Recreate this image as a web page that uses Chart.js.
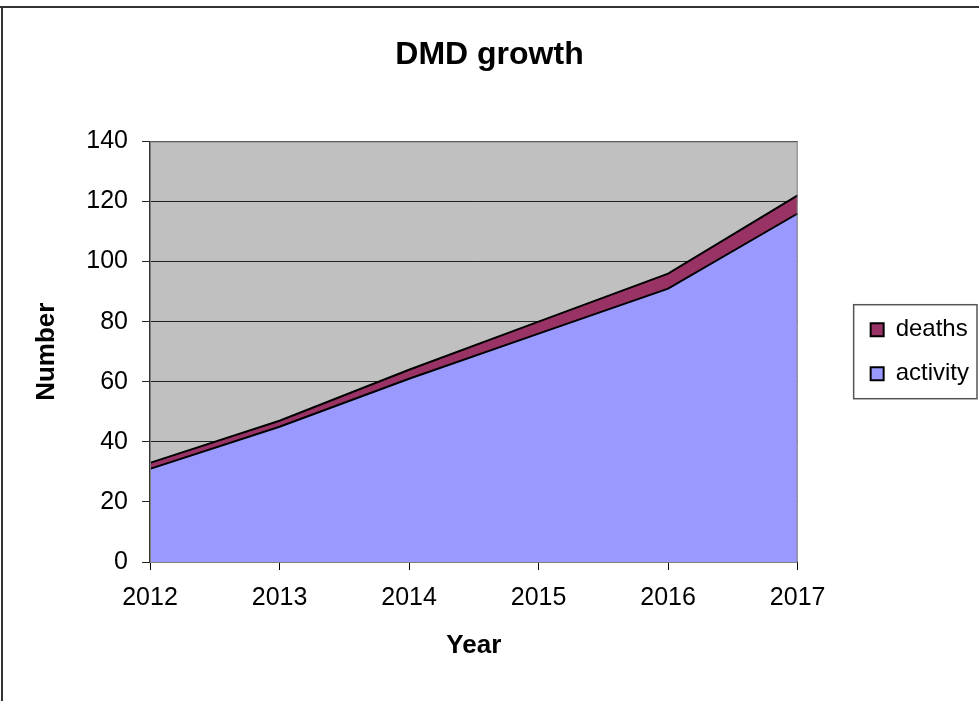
<!DOCTYPE html>
<html>
<head>
<meta charset="utf-8">
<script src="https://cdn.jsdelivr.net/npm/chart.js@4/dist/chart.umd.min.js"></script>
<style>
  html, body { margin: 0; padding: 0; background: #fff; }
  canvas { display: block; }
</style>
</head>
<body>
<canvas id="growth" width="979" height="701"></canvas>
<script>
var years = ["2012", "2013", "2014", "2015", "2016", "2017"];
var activity = [31, 45, 61, 76, 91, 116];
var deaths = [2, 2, 3, 4, 5, 6];
var yTicks = [0, 20, 40, 60, 80, 100, 120, 140];

var FONT = "'Liberation Sans', Arial, sans-serif";

// grey plot background, plot outline, outer frame and the legend box
var framePlugin = {
  id: 'frame',
  beforeDraw: function (chart) {
    var ctx = chart.ctx, a = chart.chartArea;
    ctx.save();
    ctx.fillStyle = '#c0c0c0';
    ctx.fillRect(a.left, a.top, a.right - a.left, a.bottom - a.top);
    ctx.restore();
  },
  afterDraw: function (chart) {
    var ctx = chart.ctx, a = chart.chartArea;
    ctx.save();
    ctx.strokeStyle = '#808080';
    ctx.lineWidth = 1;
    ctx.strokeRect(a.left + 0.5, a.top + 0.5, a.right - a.left - 1, a.bottom - a.top);
    // outer frame
    ctx.strokeStyle = '#333';
    ctx.lineWidth = 2;
    ctx.beginPath();
    ctx.moveTo(0, 7); ctx.lineTo(chart.width, 7);
    ctx.moveTo(2, 7); ctx.lineTo(2, chart.height);
    ctx.stroke();
    // legend box
    var lg = chart.legend;
    if (lg && lg.legendHitBoxes.length) {
      var hb = lg.legendHitBoxes;
      var y0 = hb[0].top - 13;
      var y1 = hb[hb.length - 1].top + hb[hb.length - 1].height + 13;
      ctx.strokeStyle = '#555';
      ctx.lineWidth = 1.5;
      ctx.strokeRect(lg.left + 3, y0, lg.right - lg.left - 5, y1 - y0);
    }
    ctx.restore();
  }
};

new Chart(document.getElementById('growth'), {
  type: 'line',
  data: {
    labels: years,
    datasets: [
      {
        label: 'activity',
        data: activity,
        backgroundColor: '#9999ff',
        borderColor: '#000',
        borderWidth: 2,
        fill: 'origin',
        pointRadius: 0,
        tension: 0
      },
      {
        label: 'deaths',
        data: deaths,
        backgroundColor: '#993366',
        borderColor: '#000',
        borderWidth: 2,
        fill: '-1',
        pointRadius: 0,
        tension: 0
      }
    ]
  },
  options: {
    responsive: false,
    animation: false,
    layout: { padding: { top: 8, left: 0, right: 0, bottom: 0 } },
    plugins: {
      title: {
        display: true,
        text: 'DMD growth',
        color: '#000',
        font: { family: FONT, size: 32, weight: 'bold' },
        padding: { top: 28, bottom: 67 }
      },
      legend: {
        position: 'right',
        fullSize: false,
        reverse: true,
        labels: {
          color: '#000',
          font: { family: FONT, size: 24 },
          boxWidth: 13,
          boxHeight: 13,
          padding: 20
        }
      },
      tooltip: { enabled: false }
    },
    scales: {
      x: {
        offset: false,
        grid: { display: true, drawOnChartArea: false, color: '#000', tickLength: 8 },
        border: { color: '#000', width: 2 },
        ticks: { color: '#000', font: { family: FONT, size: 25 }, padding: 13, maxRotation: 0 },
        title: {
          display: true,
          text: 'Year',
          color: '#000',
          font: { family: FONT, size: 26, weight: 'bold' },
          padding: { top: 0, bottom: 40 }
        },
        afterFit: function (s) { s.height = 139; }
      },
      y: {
        stacked: true,
        min: 0,
        max: 140,
        afterBuildTicks: function (s) { s.ticks = yTicks.map(function (v) { return { value: v }; }); },
        grid: { color: '#222', lineWidth: 1, tickLength: 8 },
        border: { color: '#333', width: 1.5 },
        ticks: { color: '#000', font: { family: FONT, size: 25 }, padding: 14 },
        title: {
          display: true,
          text: 'Number',
          color: '#000',
          font: { family: FONT, size: 26, weight: 'bold' },
          padding: { top: 31, bottom: 0 }
        },
        afterFit: function (s) { s.width = 150; }
      },
      spacer: {
        position: 'right',
        display: true,
        grid: { display: false },
        border: { display: false },
        ticks: { display: false },
        afterFit: function (s) { s.width = 53; }
      }
    }
  },
  plugins: [framePlugin]
});
</script>
</body>
</html>
